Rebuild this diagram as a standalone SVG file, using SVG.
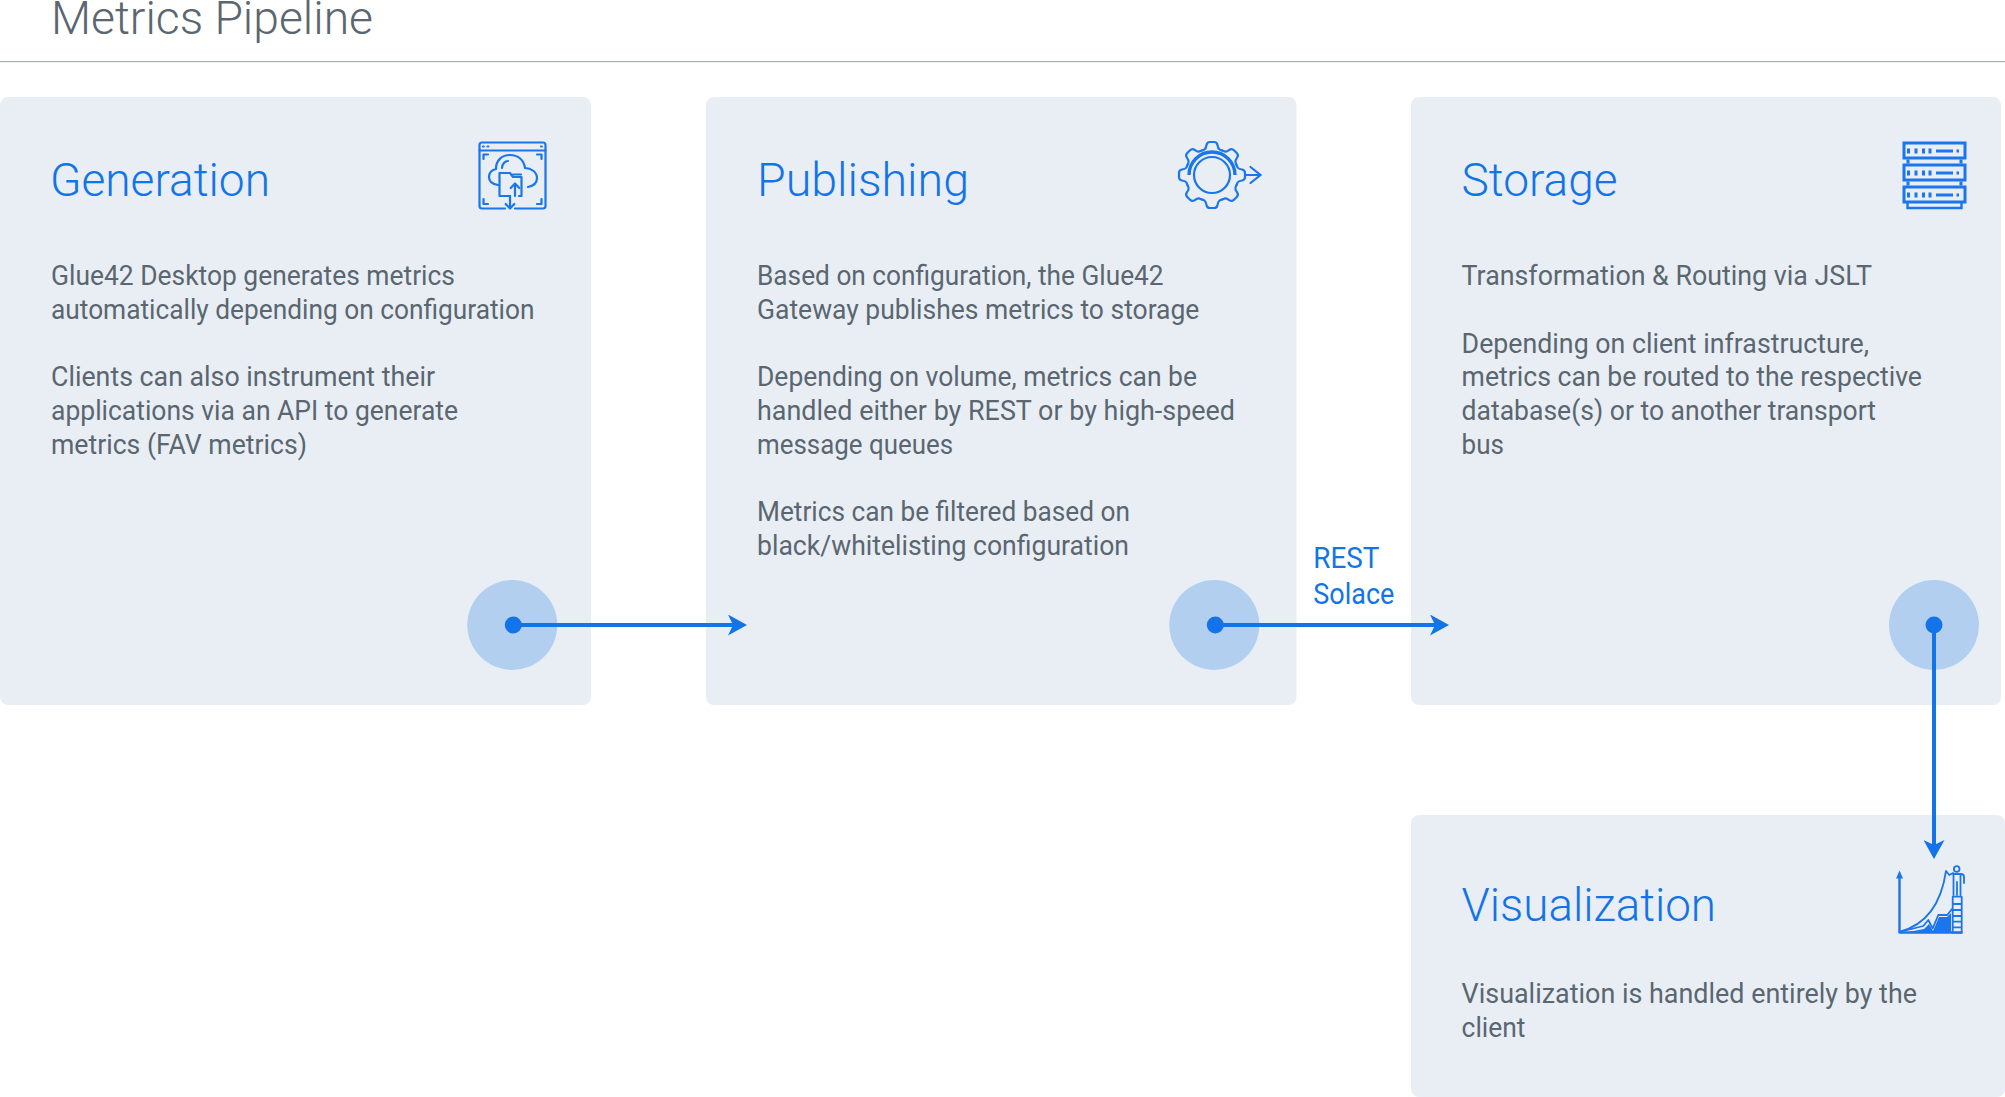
<svg xmlns="http://www.w3.org/2000/svg" width="2005" height="1097" viewBox="0 0 2005 1097">
<style>
text{font-family:"Roboto","Liberation Sans",sans-serif}
.page{font-size:46px;font-weight:300;fill:#5a6670}
.h{font-size:46px;font-weight:300;fill:#1274e8}
.b{font-size:27px;font-weight:400;fill:#5a6670}
.l{font-size:30px;font-weight:400;fill:#1274e8}
.card{fill:#e9eef5}
.halo{fill:#b3cff0}
.dot{fill:#1274e8}
.link{stroke:#1274e8;stroke-width:4;fill:none}
.i{fill:none;stroke:#1a76ea;stroke-width:2.2;stroke-linejoin:round;stroke-linecap:round}
.it{stroke-width:3;stroke-linecap:butt;stroke-linejoin:miter}
.f{fill:#1a76ea;stroke:none}
</style>
<defs>
<marker id="ah" markerUnits="userSpaceOnUse" markerWidth="19" markerHeight="21" refX="5" refY="10.5" orient="auto"><path d="M0 0L19 10.5L0 21L5 10.5Z" fill="#1274e8"/></marker>
<path id="tooth" d="M-10.1-24.5L-7.5-25.6Q-6-26.5-5.5-30Q-5-33-2-33H2Q5-33 5.5-30Q6-26.5 7.5-25.6L10.1-24.5"/>
<g id="rack"><rect x="1904" y="0" width="61" height="15"/><path d="M1908.500 5.500v5M1916 5.500v5M1923.500 5.500v5M1930 5.500v5M1936 8h17M1956.500 8h2.500"/></g>
</defs>

<g id="header">
<text class="page" x="51" y="33.500" textLength="322" lengthAdjust="spacingAndGlyphs">Metrics Pipeline</text>
<rect x="0" y="61" width="2005" height="1.2" fill="#a9afbb"/>
</g>

<g id="generation">
<rect class="card" x="0" y="97" width="591" height="608" rx="8"/>
<circle class="halo" cx="512.3" cy="625" r="45"/>
<circle class="dot" cx="513.3" cy="625" r="8.5"/>
<text class="h" x="50" y="195.500" textLength="220" lengthAdjust="spacingAndGlyphs">Generation</text>
<text class="b" x="51" y="285" textLength="404" lengthAdjust="spacingAndGlyphs">Glue42 Desktop generates metrics</text>
<text class="b" x="51" y="318.700" textLength="483.5" lengthAdjust="spacingAndGlyphs">automatically depending on configuration</text>
<text class="b" x="51" y="386.200" textLength="384" lengthAdjust="spacingAndGlyphs">Clients can also instrument their</text>
<text class="b" x="51" y="419.900" textLength="407" lengthAdjust="spacingAndGlyphs">applications via an API to generate</text>
<text class="b" x="51" y="453.700" textLength="256" lengthAdjust="spacingAndGlyphs">metrics (FAV metrics)</text>
<g class="i">
<path d="M505 208.500H482Q479.500 208.500 479.500 206V145Q479.500 142.500 482 142.500H543Q545.500 142.500 545.500 145V206Q545.500 208.500 543 208.500H515"/>
<path d="M479.500 150.500h66"/>
<path d="M483 146.500h.8M487.500 146.500h.8M541 146.500h.8"/>
<path d="M483.500 159V154.500H488M537 154.500H541.500V159M483.500 199V204H488M537 204H541.500V199"/>
<path d="M498 185C492 184 489 181 489 177C489 173 492 170 496 169C496 160 502 155 510 155C518 155 524 160 525 168C531 168 537 172 537 178C537 183 533 186 528 187"/>
<path d="M502 168C502 164 505 161 508 161"/>
<path d="M510 196H499.500V173H510L513 177H521.500V196H519M513 174.500H521"/>
<path d="M515 196V184M510.700 188L515 183.500L519.300 188"/>
<path d="M510 196V208M505.700 204L510 208.500L514.300 204"/>
</g>
</g>

<g id="publishing">
<rect class="card" x="706" y="97" width="590.500" height="608" rx="8"/>
<circle class="halo" cx="1214.3" cy="625" r="45"/>
<circle class="dot" cx="1215.3" cy="625" r="8.5"/>
<text class="h" x="757" y="195.500" textLength="212" lengthAdjust="spacingAndGlyphs">Publishing</text>
<text class="b" x="757" y="285" textLength="406.600" lengthAdjust="spacingAndGlyphs">Based on configuration, the Glue42</text>
<text class="b" x="757" y="318.700" textLength="442.400" lengthAdjust="spacingAndGlyphs">Gateway publishes metrics to storage</text>
<text class="b" x="757" y="386.200" textLength="440" lengthAdjust="spacingAndGlyphs">Depending on volume, metrics can be</text>
<text class="b" x="757" y="419.900" textLength="478" lengthAdjust="spacingAndGlyphs">handled either by REST or by high-speed</text>
<text class="b" x="757" y="453.700" textLength="196" lengthAdjust="spacingAndGlyphs">message queues</text>
<text class="b" x="757" y="521.100" textLength="373" lengthAdjust="spacingAndGlyphs">Metrics can be filtered based on</text>
<text class="b" x="757" y="554.800" textLength="372" lengthAdjust="spacingAndGlyphs">black/whitelisting configuration</text>
<g class="i" transform="translate(1212 175)">
<use href="#tooth"/><use href="#tooth" transform="rotate(45)"/><use href="#tooth" transform="rotate(90)"/><use href="#tooth" transform="rotate(135)"/><use href="#tooth" transform="rotate(180)"/><use href="#tooth" transform="rotate(225)"/><use href="#tooth" transform="rotate(270)"/><use href="#tooth" transform="rotate(315)"/>
<circle r="18"/>
<path d="M-23 0A23 23 0 0 1 23 0" stroke-width="3.4" stroke-linecap="butt"/>
<path d="M33 0H48M38.500-8L48.500 0L38.500 8" stroke-linejoin="miter"/>
</g>
</g>

<g id="storage">
<rect class="card" x="1411" y="97" width="590" height="608" rx="8"/>
<circle class="halo" cx="1934" cy="625" r="45"/>
<circle class="dot" cx="1934" cy="625" r="8.5"/>
<text class="h" x="1461.600" y="195.500" textLength="156" lengthAdjust="spacingAndGlyphs">Storage</text>
<text class="b" x="1461.600" y="285" textLength="410.400" lengthAdjust="spacingAndGlyphs">Transformation &amp; Routing via JSLT</text>
<text class="b" x="1461.600" y="352.500" textLength="407.400" lengthAdjust="spacingAndGlyphs">Depending on client infrastructure,</text>
<text class="b" x="1461.600" y="386.200" textLength="460.400" lengthAdjust="spacingAndGlyphs">metrics can be routed to the respective</text>
<text class="b" x="1461.600" y="419.900" textLength="414.400" lengthAdjust="spacingAndGlyphs">database(s) or to another transport</text>
<text class="b" x="1461.600" y="453.700" textLength="42.400" lengthAdjust="spacingAndGlyphs">bus</text>
<g class="i it">
<use href="#rack" transform="translate(0 143)"/>
<use href="#rack" transform="translate(0 165)"/>
<use href="#rack" transform="translate(0 187)"/>
<path d="M1908 159.500v4M1961 159.500v4M1908 181.500v4M1961 181.500v4"/>
<path d="M1907.500 203v5h54v-5" stroke-width="2.400"/>
</g>
</g>

<g id="visualization">
<rect class="card" x="1411" y="815" width="594" height="282" rx="8"/>
<text class="h" x="1461.600" y="920.500" textLength="254.400" lengthAdjust="spacingAndGlyphs">Visualization</text>
<text class="b" x="1461.600" y="1003" textLength="455.400" lengthAdjust="spacingAndGlyphs">Visualization is handled entirely by the</text>
<text class="b" x="1461.600" y="1036.700" textLength="63.900" lengthAdjust="spacingAndGlyphs">client</text>
<g class="i">
<path d="M1899.500 876V932.500H1961.500" stroke-width="2.400"/>
<path class="f" d="M1899.500 870.500l3.500 8h-7z"/>
<path d="M1900 931.700C1925 925 1941 905 1946 871L1949.300 875L1953 873" stroke-width="1.800"/>
<path d="M1903.300 931L1923.300 926L1928.300 920L1932.700 928.300L1938.300 915H1947.300L1951.700 909.300" stroke-width="1.800"/>
<path class="f" d="M1908 932L1924 929L1929 924L1933 931L1939 917H1947L1951 913V932Z"/>
<circle cx="1956.700" cy="869" r="2.800" stroke-width="1.800"/>
<path d="M1953 874H1961Q1964 874 1964 877V883M1953.500 874V895M1960.500 874V895M1957 882V895" stroke-width="1.800"/>
<path d="M1952.700 896.700H1961.700V932.700H1952.700ZM1952.700 904H1961.700M1952.700 910H1961.700M1952.700 916H1961.700M1952.700 921.700H1961.700M1952.700 927.300H1961.700" stroke-width="1.800"/>
</g>
</g>

<g id="connectors">
<path class="link" marker-end="url(#ah)" d="M513.300 625H733"/>
<path class="link" marker-end="url(#ah)" d="M1215.300 625H1435"/>
<path class="link" marker-end="url(#ah)" d="M1934 625V845"/>
<text class="l" x="1313.300" y="568.300" textLength="66" lengthAdjust="spacingAndGlyphs">REST</text>
<text class="l" x="1313.300" y="604" textLength="81" lengthAdjust="spacingAndGlyphs">Solace</text>
</g>
</svg>
